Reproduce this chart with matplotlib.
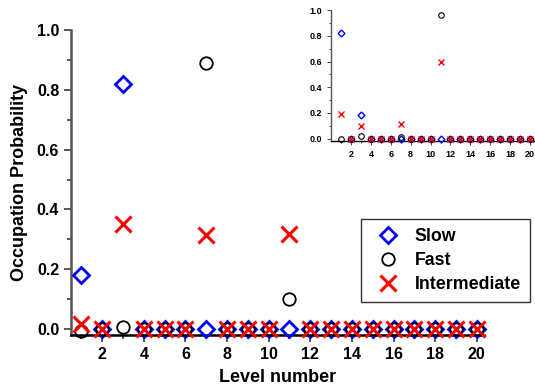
import numpy as np
import matplotlib
matplotlib.use("Agg")
import matplotlib.pyplot as plt
from matplotlib.ticker import MultipleLocator, FixedLocator

levels = np.arange(1, 21)

# main panel
slow = [0.18, 0, 0.82, 0, 0, 0, 0, 0, 0, 0, 0, 0, 0, 0, 0, 0, 0, 0, 0, 0]
fast = [-0.005, 0, 0.008, 0, 0, 0, 0.89, 0, 0, 0, 0.10, 0, 0, 0, 0, 0, 0, 0, 0, 0]
inter = [0.018, 0, 0.35, 0, 0, 0, 0.315, 0, 0, 0, 0.318, 0, 0, 0, 0, 0, 0, 0, 0, 0]

# inset panel
slow_in = [0.82, 0, 0.18, 0, 0, 0, 0, 0, 0, 0, 0, 0, 0, 0, 0, 0, 0, 0, 0, 0]
fast_in = [0, 0, 0.02, 0, 0, 0, 0.01, 0, 0, 0, 0.96, 0, 0, 0, 0, 0, 0, 0, 0, 0]
inter_in = [0.19, 0, 0.10, 0, 0, 0, 0.11, 0, 0, 0, 0.60, 0, 0, 0, 0, 0, 0, 0, 0, 0]

plt.rcParams["font.family"] = ["Liberation Sans", "DejaVu Sans"]
plt.rcParams["font.weight"] = "bold"

fig = plt.figure(figsize=(5.35, 3.9), dpi=100)


def style_axes(ax, fs, lw, ticklen):
    for s in ["top", "right"]:
        ax.spines[s].set_visible(False)
    for s in ["left", "bottom"]:
        ax.spines[s].set_linewidth(lw)
    ax.spines["left"].set_color("#555555")
    ax.spines["bottom"].set_color("black")
    ax.xaxis.set_major_locator(FixedLocator(list(range(2, 21, 2))))
    ax.xaxis.set_minor_locator(FixedLocator(list(range(1, 21, 2))))
    ax.yaxis.set_major_locator(MultipleLocator(0.2))
    ax.yaxis.set_minor_locator(MultipleLocator(0.1))
    ax.tick_params(which="major", direction="out", length=ticklen, width=lw * 0.7,
                   labelsize=fs, color="#444444")
    ax.tick_params(which="minor", direction="out", length=ticklen * 0.6, width=lw * 0.7,
                   color="#444444")
    ax.yaxis.set_major_formatter(matplotlib.ticker.FormatStrFormatter("%.1f"))


ax = fig.add_axes([0.1327, 0.141, 0.772, 0.782])
ax.plot(levels, slow, linestyle="none", marker="D", ms=8, mfc="none", mec="blue",
        mew=2, label="Slow", clip_on=False, zorder=3)
ax.plot(levels, fast, linestyle="none", marker="o", ms=9, mfc="none", mec="black",
        mew=1.3, label="Fast", clip_on=False, zorder=4)
ax.plot(levels, inter, linestyle="none", marker="x", ms=11, mec="red",
        mew=2.2, label="Intermediate", clip_on=False, zorder=5)
ax.set_xlim(0.5, 20.35)
ax.set_ylim(-0.02, 1.0)
style_axes(ax, 11.5, 1.8, 5)
ax.set_xlabel("Level number", fontsize=13, fontweight="bold", labelpad=5)
ax.set_ylabel("Occupation Probability", fontsize=13, fontweight="bold", labelpad=6)
leg = ax.legend(loc="upper left", bbox_to_anchor=(0.703, 0.38),
                frameon=True, fancybox=False, edgecolor="black",
                handlelength=2.0, handletextpad=0.5,
                borderpad=0.5, labelspacing=0.4, borderaxespad=0,
                prop={"weight": "bold", "size": 12.8})
leg.get_frame().set_linewidth(1.0)

axi = fig.add_axes([0.619, 0.638, 0.381, 0.336])
axi.plot(levels, slow_in, linestyle="none", marker="D", ms=3.5, mfc="none", mec="blue",
         mew=1, clip_on=False, zorder=3)
axi.plot(levels, fast_in, linestyle="none", marker="o", ms=4, mfc="none", mec="black",
         mew=0.8, clip_on=False, zorder=4)
axi.plot(levels, inter_in, linestyle="none", marker="x", ms=5, mec="red",
         mew=1, clip_on=False, zorder=5)
axi.set_xlim(0, 20.5)
axi.set_ylim(-0.02, 1.0)
style_axes(axi, 6.5, 1.0, 3)

fig.savefig("out.png", dpi=100)
